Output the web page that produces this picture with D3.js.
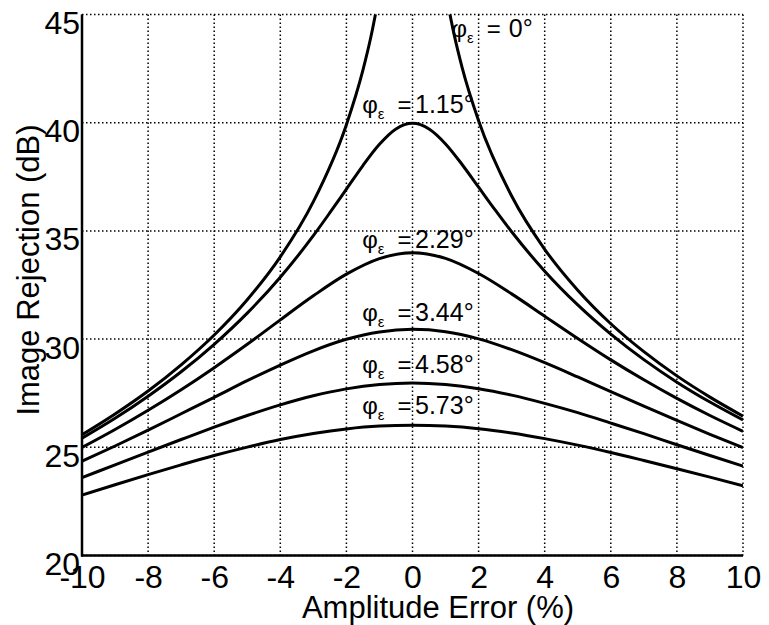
<!DOCTYPE html>
<html>
<head>
<meta charset="utf-8">
<script src="https://cdn.jsdelivr.net/npm/d3@7"></script>
<style>
  html, body { margin: 0; padding: 0; background: #fff; }
  svg { display: block; }
</style>
</head>
<body>
<svg id="chart" width="769" height="625"></svg>
<script>
// ---------------- data ----------------
const xTicks = [-10, -8, -6, -4, -2, 0, 2, 4, 6, 8, 10];
const yTicks = [20, 25, 30, 35, 40, 45];

// phi = 0 deg (two branches, going off the top)
const err0Left  = [-10, -9, -8, -7, -6, -5, -4, -3, -2, -1.5, -1.25, -1];
const irr0Left  = [25.58, 26.54, 27.60, 28.81, 30.19, 31.82, 33.80, 36.35, 39.91, 42.43, 44.03, 45.98];
const err0Right = [1, 1.25, 1.5, 2, 3, 4, 5, 6, 7, 8, 9, 10];
const irr0Right = [46.06, 44.14, 42.56, 40.09, 36.61, 34.15, 32.26, 30.71, 29.42, 28.30, 27.32, 26.44];

// phi = 1.15 deg
const err115 = [-10, -9, -8, -7, -6, -5, -4, -3, -2.5, -2, -1.5, -1, -0.5, 0, 0.5, 1, 1.5, 2, 2.5, 3, 4, 5, 6, 7, 8, 9, 10];
const irr115 = [25.42, 26.34, 27.36, 28.49, 29.76, 31.20, 32.86, 34.78, 35.84, 36.93, 38.02, 39.00, 39.71, 39.97, 39.71, 39.02, 38.07, 37.02, 35.97, 34.96, 33.14, 31.58, 30.23, 29.05, 28.01, 27.09, 26.26];

// remaining curves share the integer error grid
const errGrid = [-10, -9, -8, -7, -6, -5, -4, -3, -2, -1, 0, 1, 2, 3, 4, 5, 6, 7, 8, 9, 10];
const irr229 = [24.99, 25.82, 26.71, 27.66, 28.68, 29.76, 30.89, 32.00, 33.00, 33.72, 33.99, 33.73, 33.03, 32.09, 31.06, 30.03, 29.04, 28.12, 27.26, 26.47, 25.74];
const irr344 = [24.36, 25.06, 25.79, 26.55, 27.31, 28.08, 28.80, 29.46, 29.99, 30.33, 30.45, 30.34, 30.01, 29.51, 28.91, 28.25, 27.57, 26.90, 26.24, 25.60, 24.99];
const irr458 = [23.60, 24.19, 24.78, 25.36, 25.93, 26.47, 26.96, 27.38, 27.70, 27.90, 27.97, 27.90, 27.71, 27.41, 27.03, 26.60, 26.12, 25.63, 25.12, 24.62, 24.13];
const irr573 = [22.79, 23.27, 23.74, 24.19, 24.62, 25.01, 25.36, 25.64, 25.85, 25.98, 26.02, 25.98, 25.86, 25.66, 25.40, 25.10, 24.76, 24.39, 24.01, 23.62, 23.22];

const labelAngles = ["0", "1.15", "2.29", "3.44", "4.58", "5.73"];

// ---------------- layout ----------------
const svg = d3.select("#chart");
const pL = 82, pR = 743, pT = 14.5, pB = 555.5;
const x = d3.scaleLinear().domain([-10, 10]).range([pL, pR]);
const y = d3.scaleLinear().domain([20, 45]).range([pB, pT]);
const FONT = "Arial, 'Liberation Sans', Helvetica, sans-serif";

// clip
svg.append("defs").append("clipPath").attr("id", "plotclip")
  .append("rect").attr("x", pL).attr("y", pT).attr("width", pR - pL).attr("height", pB - pT);

// grid (dotted)
const grid = svg.append("g").attr("stroke", "#000").attr("stroke-width", 1.5)
  .attr("stroke-dasharray", "1.5,2.5").attr("fill", "none");
grid.selectAll("line.v").data(xTicks).join("line").attr("class", "v")
  .attr("x1", d => x(d)).attr("x2", d => x(d)).attr("y1", pT).attr("y2", pB);
grid.selectAll("line.h").data(yTicks).join("line").attr("class", "h")
  .attr("x1", pL).attr("x2", pR).attr("y1", d => y(d)).attr("y2", d => y(d));

// curves
const line = d3.line().x(d => x(d[0])).y(d => y(d[1])).curve(d3.curveMonotoneX);
const zip = (a, b) => a.map((v, i) => [v, b[i]]);
const series = [
  zip(err0Left, irr0Left), zip(err0Right, irr0Right),
  zip(err115, irr115), zip(errGrid, irr229), zip(errGrid, irr344),
  zip(errGrid, irr458), zip(errGrid, irr573)
];
svg.append("g").attr("clip-path", "url(#plotclip)")
  .selectAll("path").data(series).join("path")
  .attr("d", line).attr("fill", "none").attr("stroke", "#000")
  .attr("stroke-width", 3).attr("stroke-linejoin", "round");

// solid axes lines (left & bottom)
svg.append("line").attr("x1", pL).attr("x2", pL).attr("y1", pT).attr("y2", pB + 1)
  .attr("stroke", "#000").attr("stroke-width", 2.5);
svg.append("line").attr("x1", pL - 1).attr("x2", pR).attr("y1", pB).attr("y2", pB)
  .attr("stroke", "#000").attr("stroke-width", 2.5);

// axes tick labels (plain hyphen-minus as in the reference)
const fmt = d => String(d);
const gx = svg.append("g").attr("transform", `translate(0,${pB})`)
  .call(d3.axisBottom(x).tickValues(xTicks).tickSize(0).tickFormat(fmt));
gx.select(".domain").remove();
gx.selectAll("text").attr("y", 32.5).attr("dy", 0)
  .attr("font-family", FONT).attr("font-size", 32).attr("fill", "#000");

const gy = svg.append("g").attr("transform", `translate(${pL},0)`)
  .call(d3.axisLeft(y).tickValues(yTicks).tickSize(0).tickPadding(2).tickFormat(fmt));
gy.select(".domain").remove();
gy.selectAll("text").attr("dy", 19)
  .attr("font-family", FONT).attr("font-size", 32).attr("fill", "#000");

// axis titles
svg.append("text").attr("x", 438).attr("y", 618).attr("text-anchor", "middle")
  .attr("font-family", FONT).attr("font-size", 31).text("Amplitude Error (%)");
svg.append("text").attr("transform", "translate(39,270) rotate(-90)").attr("text-anchor", "middle")
  .attr("font-family", FONT).attr("font-size", 31).text("Image Rejection (dB)");

// curve labels: "φε =" ends just left of a split point, the value starts just right of it
const labelSplit = [2.7, 0, 0, 0, 0, 0];
const valueGap = [7, 2.5, 2.5, 2.5, 2.5, 2.5];
const labelY = [43.96, 40.45, 34.21, 30.84, 28.43, 26.54];
labelAngles.forEach((a, i) => {
  const g = svg.append("g").attr("font-family", FONT).attr("fill", "#000");
  const xs = x(labelSplit[i]), ys = y(labelY[i]);
  g.append("text").attr("x", xs - 1).attr("y", ys)
    .attr("text-anchor", "end").attr("font-size", 24).text("=");
  const t1 = g.append("text").attr("x", xs - 28).attr("y", ys)
    .attr("text-anchor", "end").attr("font-size", 24);
  t1.append("tspan").text("\u03C6");
  t1.append("tspan").attr("dy", 6).attr("font-size", 15).text("\u03B5");
  g.append("text").attr("x", xs + valueGap[i]).attr("y", ys).attr("font-size", 25)
    .attr("textLength", null)
    .text(a + "\u00B0");
});
</script>
</body>
</html>
